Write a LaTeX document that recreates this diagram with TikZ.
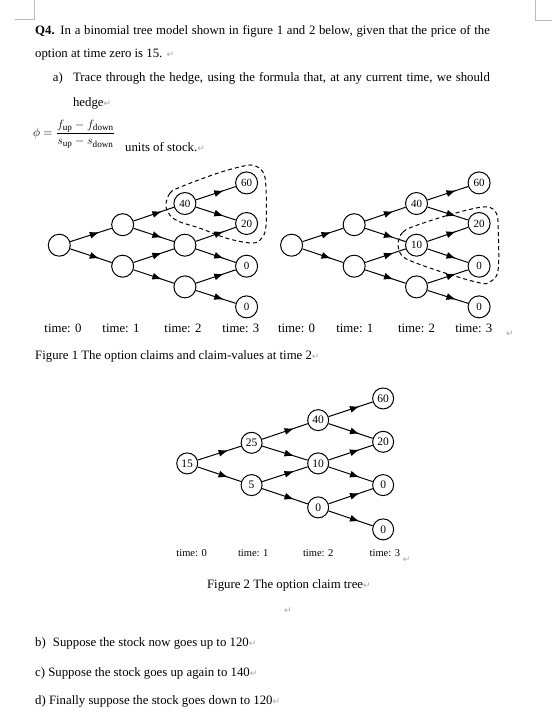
\documentclass[tikz,border=0pt]{standalone}
\usepackage{amsmath}
\usepackage{fontspec}
\setmainfont{Liberation Serif}
\newfontfamily\symfont{DejaVu Sans}
\usetikzlibrary{arrows.meta,decorations.markings}

\newcommand{\retmark}{{\symfont\fontsize{9}{10}\selectfont\color{gray!70}↵}}

\begin{document}
\begin{tikzpicture}[x=1pt,y=-1pt,>=Latex]
  \tikzstyle{txt}=[anchor=base west,inner sep=0pt,font=\fontsize{12.8}{14}\selectfont]
  \tikzstyle{state}=[draw,circle,line width=1pt,minimum size=22pt,inner sep=0pt,font=\fontsize{11}{12}\selectfont]
  \tikzstyle{claim}=[state,minimum size=21pt,font=\fontsize{11.5}{12}\selectfont]
  \tikzstyle{edge}=[line width=1pt,postaction={decorate},decoration={markings,mark=at position 0.7 with {\arrow{Latex[length=9.5pt,width=7pt]}}}]
  \tikzstyle{hull}=[line width=1pt,dash pattern=on 4pt off 3pt]
  \tikzstyle{timelabel}=[inner sep=0pt,font=\fontsize{12.8}{14}\selectfont]
  \tikzstyle{smalltime}=[inner sep=0pt,font=\fontsize{10.5}{12}\selectfont]
  \tikzstyle{corner}=[draw=gray!55,line width=0.6pt]

  \path[fill=white] (0,0) rectangle (552,714);

  % page corner marks
  \draw[corner] (15,19) -- (34.5,19) -- (34.5,0);
  \draw[corner] (552,20) -- (536,20) -- (536,0);

  % question text
  \node[txt] (line1) at (35,34) {\makebox[455pt][s]{\textbf{Q4.} In a binomial tree model shown in figure 1 and 2 below, given that the price of the}};
  \node[txt] (line2) at (35,57.5) {option at time zero is 15. \retmark};
  \node[txt] (parta) at (52.8,81.5) {a)};
  \node[txt] (line3) at (72.9,81.5) {\makebox[417pt][s]{Trace through the hedge, using the formula that, at any current time, we should}};
  \node[txt] (line4) at (72.9,106) {hedge\retmark};
  \node[anchor=west,inner sep=0pt,font=\fontsize{13}{15}\selectfont] (formula) at (33,134) {$\phi=\dfrac{f_{\mathrm{up}}-f_{\mathrm{down}}}{s_{\mathrm{up}}-s_{\mathrm{down}}}$};
  \node[txt] (units) at (125,151) {units of stock.\retmark};

  % figure 1, left tree
  \node[state] (L0) at (59.3,245) {};
  \node[state] (L1u) at (122.7,224.5) {};
  \node[state] (L1d) at (122.7,266) {};
  \node[state] (L2u) at (185,203.3) {40};
  \node[state] (L2m) at (185,245) {};
  \node[state] (L2d) at (185,286.7) {};
  \node[state] (L3a) at (246.7,182.7) {60};
  \node[state] (L3b) at (246.7,223.3) {20};
  \node[state] (L3c) at (246.7,266) {0};
  \node[state] (L3d) at (246.7,306.7) {0};

  \draw[edge] (L0) -- (L1u);
  \draw[edge] (L0) -- (L1d);
  \draw[edge] (L1u) -- (L2u);
  \draw[edge] (L1u) -- (L2m);
  \draw[edge] (L1d) -- (L2m);
  \draw[edge] (L1d) -- (L2d);
  \draw[edge] (L2u) -- (L3a);
  \draw[edge] (L2u) -- (L3b);
  \draw[edge] (L2m) -- (L3b);
  \draw[edge] (L2m) -- (L3c);
  \draw[edge] (L2d) -- (L3c);
  \draw[edge] (L2d) -- (L3d);

  \draw[hull] plot[smooth cycle,tension=0.6] coordinates {(166,205) (170,193) (180,187) (216.7,173.3) (240,166.7) (253,165) (263,171.7) (266,186.7) (266,226.7) (260,240) (250,242.7) (226.7,238) (200,228) (180,221.7) (170,215)};

  % figure 1, right tree
  \node[state] (R0) at (291.7,245) {};
  \node[state] (R1u) at (354.3,224.5) {};
  \node[state] (R1d) at (354.3,266) {};
  \node[state] (R2u) at (416.7,203.3) {40};
  \node[state] (R2m) at (416.7,245) {10};
  \node[state] (R2d) at (416.7,286.7) {};
  \node[state] (R3a) at (479.3,182.7) {60};
  \node[state] (R3b) at (479.3,223.3) {20};
  \node[state] (R3c) at (479.3,266) {0};
  \node[state] (R3d) at (479.3,306.7) {0};

  \draw[edge] (R0) -- (R1u);
  \draw[edge] (R0) -- (R1d);
  \draw[edge] (R1u) -- (R2u);
  \draw[edge] (R1u) -- (R2m);
  \draw[edge] (R1d) -- (R2m);
  \draw[edge] (R1d) -- (R2d);
  \draw[edge] (R2u) -- (R3a);
  \draw[edge] (R2u) -- (R3b);
  \draw[edge] (R2m) -- (R3b);
  \draw[edge] (R2m) -- (R3c);
  \draw[edge] (R2d) -- (R3c);
  \draw[edge] (R2d) -- (R3d);

  \draw[hull] plot[smooth cycle,tension=0.6] coordinates {(398.3,243.3) (403.3,231.7) (420,224) (460,211.7) (486.7,206.7) (496.7,213.3) (498.3,226.7) (498.3,270) (490,281.7) (480,282.7) (446.7,273.3) (413.3,261.7) (401.7,255)};

  % figure 1, time axis
  \node[timelabel] (Lt0) at (63,328) {time: 0};
  \node[timelabel] (Lt1) at (121,328) {time: 1};
  \node[timelabel] (Lt2) at (183,328) {time: 2};
  \node[timelabel] (Lt3) at (241,328) {time: 3};
  \node[timelabel] (Rt0) at (296.7,328) {time: 0};
  \node[timelabel] (Rt1) at (355,328) {time: 1};
  \node[timelabel] (Rt2) at (416.7,328) {time: 2};
  \node[timelabel] (Rt3) at (474,328) {time: 3};
  \node[inner sep=0pt] (Rtret) at (510,334) {\retmark};

  \node[txt] (cap1) at (35,359.5) {Figure 1 The option claims and claim-values at time 2\retmark};

  % figure 2, claim tree
  \node[claim] (T0) at (187.3,463.3) {15};
  \node[claim] (T1u) at (251.7,442.7) {25};
  \node[claim] (T1d) at (251.7,485) {5};
  \node[claim] (T2u) at (318.3,420) {40};
  \node[claim] (T2m) at (318.3,463.3) {10};
  \node[claim] (T2d) at (318.3,507.3) {0};
  \node[claim] (T3a) at (383.3,398.3) {60};
  \node[claim] (T3b) at (383.3,441.7) {20};
  \node[claim] (T3c) at (383.3,485) {0};
  \node[claim] (T3d) at (383.3,529.3) {0};

  \draw[edge] (T0) -- (T1u);
  \draw[edge] (T0) -- (T1d);
  \draw[edge] (T1u) -- (T2u);
  \draw[edge] (T1u) -- (T2m);
  \draw[edge] (T1d) -- (T2m);
  \draw[edge] (T1d) -- (T2d);
  \draw[edge] (T2u) -- (T3a);
  \draw[edge] (T2u) -- (T3b);
  \draw[edge] (T2m) -- (T3b);
  \draw[edge] (T2m) -- (T3c);
  \draw[edge] (T2d) -- (T3c);
  \draw[edge] (T2d) -- (T3d);

  \node[smalltime] (Tt0) at (191.7,552.7) {time: 0};
  \node[smalltime] (Tt1) at (253.3,552.7) {time: 1};
  \node[smalltime] (Tt2) at (318.3,552.7) {time: 2};
  \node[smalltime] (Tt3) at (385,552.7) {time: 3};
  \node[inner sep=0pt] (Ttret) at (406.7,560) {\retmark};

  \node[txt] (cap2) at (207,588.5) {Figure 2 The option claim tree\retmark};
  \node[inner sep=0pt] (blank) at (288,611) {\retmark};

  % parts b) to d)
  \node[txt] (partb) at (35,646) {b)};
  \node[txt] (lineb) at (52.8,646) {Suppose the stock now goes up to 120\retmark};
  \node[txt] (linec) at (35,676) {c) Suppose the stock goes up again to 140\retmark};
  \node[txt] (lined) at (35,704.5) {d) Finally suppose the stock goes down to 120\retmark};
\end{tikzpicture}
\end{document}
